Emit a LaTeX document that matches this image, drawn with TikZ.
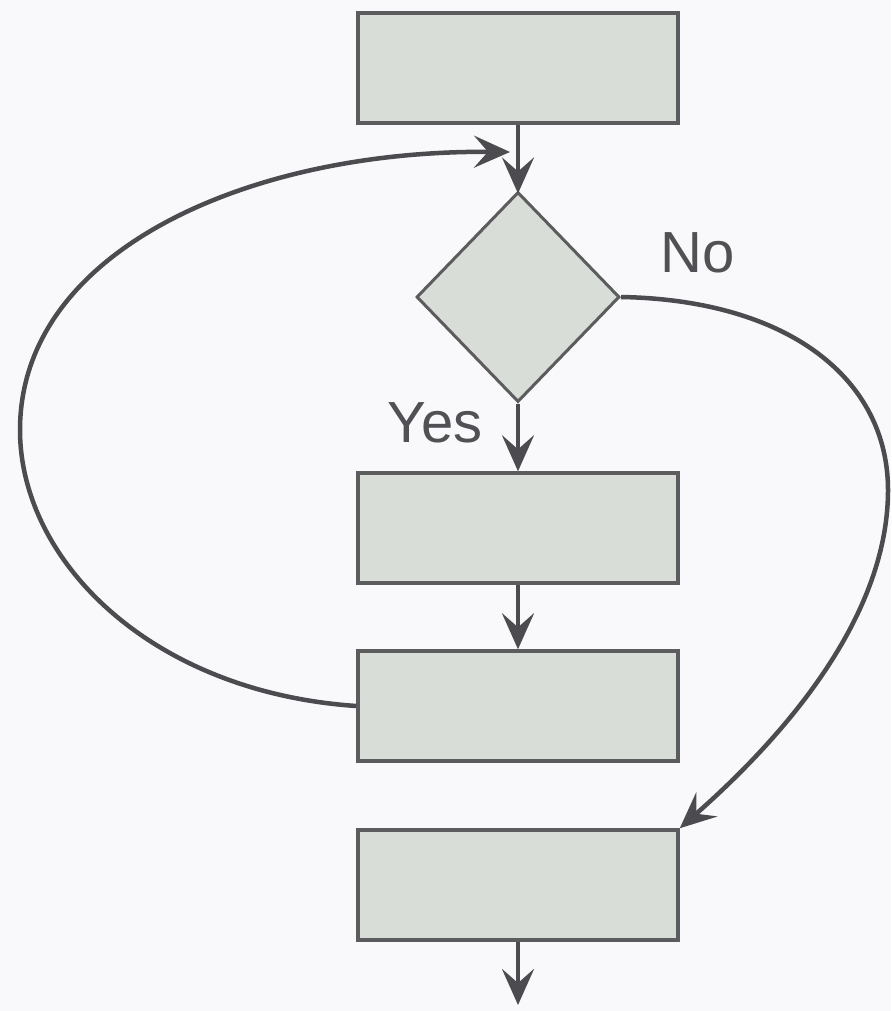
\documentclass[tikz,border=0pt]{standalone}
\usepackage{fontspec}
\setmainfont{Liberation Sans}
\usetikzlibrary{shapes.geometric,arrows.meta}
\definecolor{bg}{HTML}{F9F9FB}
\definecolor{boxfill}{HTML}{D9DDD7}
\definecolor{boxline}{HTML}{5C5C5E}
\definecolor{wire}{HTML}{4B4B50}
\definecolor{labelc}{HTML}{505055}
\begin{document}
\begin{tikzpicture}[x=1pt,y=-1pt,
  procbox/.style={draw=boxline, fill=boxfill, line width=3.5pt, rectangle,
    minimum width=320pt, minimum height=110pt, inner sep=0pt},
  decision/.style={draw=boxline, fill=boxfill, line width=3pt, diamond,
    minimum width=203pt, minimum height=210pt, inner sep=0pt},
  flow/.style={draw=wire, line width=4.5pt,
    -{Stealth[length=36pt, width=32pt, inset=14pt]}},
  lbl/.style={text=labelc, font=\fontsize{58}{64}\selectfont, inner sep=0pt}]
  % page area
  \fill[bg] (0,0) rectangle (891,1011);
  \useasboundingbox (0,0) rectangle (891,1011);

  % nodes
  \node[procbox] (b1) at (518,68) {};
  \node[decision] (d) at (518,297) {};
  \node[procbox] (b2) at (518,528) {};
  \node[procbox] (b3) at (518,706) {};
  \node[procbox] (b4) at (518,885) {};
  \coordinate (loopin) at (510,152);
  \coordinate (out) at (518,1005);

  % labels
  \node[lbl] (yes) at (435,423) {Yes};
  \node[lbl] (no) at (698,253) {No};

  % straight connectors
  \draw[flow] (b1.south) -- ([yshift=-3pt]d.north);
  \draw[flow] (d.south) -- (b2.north);
  \draw[flow] (b2.south) -- (b3.north);
  \draw[flow] (b4.south) -- (out);

  % loop back from the third box to the decision
  \draw[flow] (b3.west) .. controls (150,692) and (20,560) .. (20,430)
                         .. controls (20,250) and (250,150) .. (loopin);

  % "No" branch around the right side to the last box
  \draw[flow] (d.east) .. controls (790,300) and (888,380) .. (888,490)
                       .. controls (888,620) and (780,740) .. (b4.north east);
\end{tikzpicture}
\end{document}
